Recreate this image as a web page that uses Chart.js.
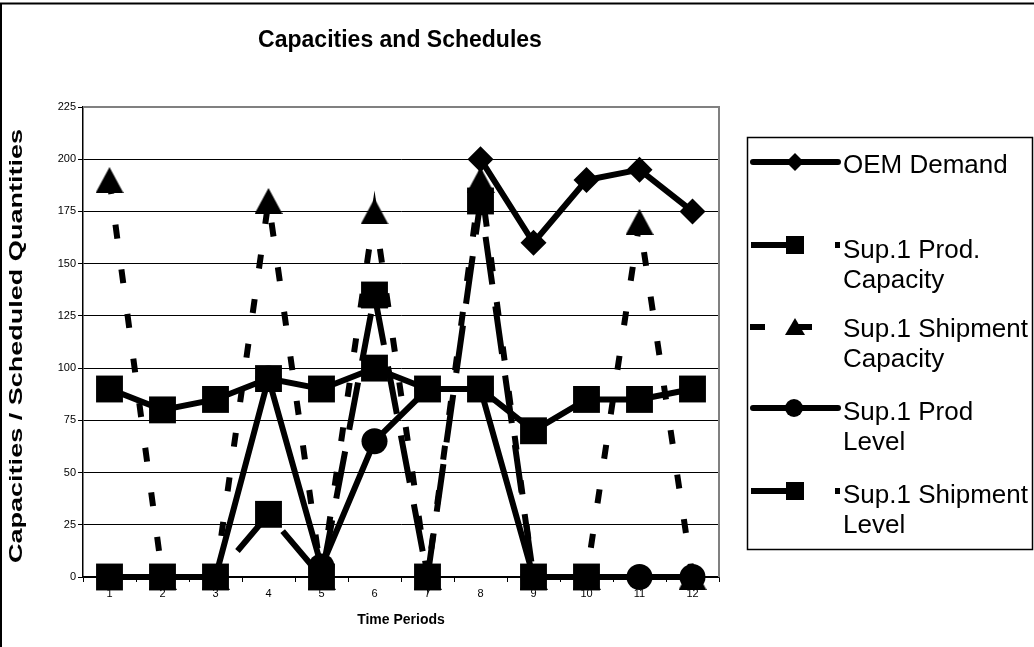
<!DOCTYPE html>
<html>
<head>
<meta charset="utf-8">
<script src="https://cdn.jsdelivr.net/npm/chart.js@4.4.1/dist/chart.umd.min.js"></script>
<style>
  html, body { margin: 0; padding: 0; background: #fff; }
  #wrap { width: 1034px; height: 647px; }
</style>
</head>
<body>
<div id="wrap"><canvas id="capChart" width="1034" height="647"></canvas></div>
<script>
const FONT = '"Liberation Sans", Arial, sans-serif';

// data
const periods = ['1', '2', '3', '4', '5', '6', '7', '8', '9', '10', '11', '12'];
const oemDemand = [null, null, null, null, null, null, null, 200, 160, 190, 195, 175];
const prodCapacity = [90, 80, 85, 95, 90, 100, 90, 90, 70, 85, 85, 90];
const shipCapacity = [190, 0, 0, 180, 0, 175, 0, 190, 0, 0, 170, 0];
const prodLevel = [0, 0, 0, 95, 5, 65, 90, 90, 0, 0, 0, 0];
const shipLevel = [0, 0, 0, 30, 0, 135, 0, 180, 0, 0, null, null];
const yTicks = [0, 25, 50, 75, 100, 125, 150, 175, 200, 225];

const seriesNames = ['OEM Demand', 'Sup.1 Prod. Capacity', 'Sup.1 Shipment Capacity', 'Sup.1 Prod Level', 'Sup.1 Shipment Level'];
// how the legend wraps its labels
const legendLines = [['OEM Demand'], ['Sup.1 Prod.', 'Capacity'], ['Sup.1 Shipment', 'Capacity'], ['Sup.1 Prod', 'Level'], ['Sup.1 Shipment', 'Level']];

// excel centres its triangle marker on the box, not the centroid
const triMarker = document.createElement('canvas');
triMarker.width = 28;
triMarker.height = 26;
(function () {
    const c = triMarker.getContext('2d');
    c.fillStyle = '#000';
    c.beginPath();
    c.moveTo(14, 0);
    c.lineTo(28, 26);
    c.lineTo(0, 26);
    c.closePath();
    c.fill();
})();

function series(label, data, style, radius, dash, order) {
    return {
        label: label,
        data: data,
        borderColor: '#000',
        backgroundColor: '#000',
        borderWidth: 6,
        borderDash: dash,
        borderCapStyle: 'butt',
        pointStyle: style,
        pointRadius: radius,
        pointHoverRadius: radius,
        pointBackgroundColor: '#000',
        pointBorderWidth: 0,
        tension: 0,
        clip: false,
        order: order
    };
}

// frame, titles and the boxed legend, drawn the way the old spreadsheet chart had them
const decorations = {
    id: 'decorations',
    beforeDatasetsDraw(chart) {
        const ctx = chart.ctx;
        const a = chart.chartArea;
        ctx.save();
        ctx.strokeStyle = '#808080';
        ctx.lineWidth = 2;
        ctx.beginPath();
        ctx.moveTo(a.left, a.top);
        ctx.lineTo(a.right, a.top);
        ctx.lineTo(a.right, a.bottom);
        ctx.stroke();
        ctx.restore();
    },
    afterDraw(chart) {
        const ctx = chart.ctx;
        const a = chart.chartArea;
        ctx.save();

        // outer frame (top and left only show)
        ctx.strokeStyle = '#000';
        ctx.lineWidth = 2;
        ctx.beginPath();
        ctx.moveTo(1, 647);
        ctx.lineTo(1, 3.5);
        ctx.lineTo(1034, 3.5);
        ctx.stroke();

        // title
        ctx.fillStyle = '#000';
        ctx.font = 'bold 23px ' + FONT;
        ctx.textAlign = 'center';
        ctx.textBaseline = 'alphabetic';
        ctx.fillText('Capacities and Schedules', 400, 47);

        // y axis title, stretched along its length like the original
        ctx.save();
        ctx.translate(17, (a.top + a.bottom) / 2 + 4);
        ctx.rotate(-Math.PI / 2);
        ctx.font = 'bold 18px ' + FONT;
        const yt = 'Capacities / Scheduled Quantities';
        const w = ctx.measureText(yt).width;
        ctx.scale(434 / w, 1);
        ctx.textBaseline = 'middle';
        ctx.fillText(yt, 0, 0);
        ctx.restore();

        // legend box
        ctx.strokeStyle = '#000';
        ctx.lineWidth = 1.5;
        ctx.strokeRect(747.5, 137.5, 285, 412);

        const symY = [162, 245, 327, 408, 491];
        const baseY = [173, 258, 337, 420, 503];
        ctx.fillStyle = '#000';
        ctx.strokeStyle = '#000';

        function lineSeg(x1, x2, y, cap) {
            ctx.lineWidth = 6;
            ctx.lineCap = cap;
            ctx.beginPath();
            ctx.moveTo(x1, y);
            ctx.lineTo(x2, y);
            ctx.stroke();
        }

        // OEM demand
        lineSeg(753, 838, symY[0], 'round');
        ctx.beginPath();
        ctx.moveTo(795, symY[0] - 9);
        ctx.lineTo(804, symY[0]);
        ctx.lineTo(795, symY[0] + 9);
        ctx.lineTo(786, symY[0]);
        ctx.closePath();
        ctx.fill();

        // prod capacity and shipment level
        [1, 4].forEach(i => {
            lineSeg(751, 788, symY[i], 'butt');
            ctx.fillRect(786, symY[i] - 9, 18, 18);
            ctx.fillRect(835, symY[i] - 3, 5, 6);
        });

        // shipment capacity
        ctx.fillRect(750, symY[2] - 3, 15, 6);
        ctx.beginPath();
        ctx.moveTo(795, symY[2] - 9);
        ctx.lineTo(805, symY[2] + 8);
        ctx.lineTo(785, symY[2] + 8);
        ctx.closePath();
        ctx.fill();
        ctx.fillRect(797, symY[2] - 3, 15, 6);

        // prod level
        lineSeg(753, 838, symY[3], 'round');
        ctx.beginPath();
        ctx.arc(794, symY[3], 9, 0, Math.PI * 2);
        ctx.fill();

        ctx.font = '26px ' + FONT;
        ctx.textAlign = 'left';
        ctx.textBaseline = 'alphabetic';
        legendLines.forEach((lines, i) => {
            lines.forEach((t, j) => ctx.fillText(t, 843, baseY[i] + j * 30));
        });

        ctx.restore();
    }
};

const capChart = new Chart(document.getElementById('capChart'), {
    type: 'line',
    data: {
        labels: periods,
        datasets: [
            series(seriesNames[0], oemDemand, 'rectRot', 13, [], 5),
            series(seriesNames[1], prodCapacity, 'rect', 19, [], 4),
            series(seriesNames[2], shipCapacity, triMarker, 14, [14, 31], 3),
            series(seriesNames[3], prodLevel, 'circle', 13, [], 2),
            series(seriesNames[4], shipLevel, 'rect', 19, [48, 22], 1)
        ]
    },
    options: {
        responsive: false,
        animation: false,
        layout: { padding: { left: 0, right: 315, top: 107, bottom: 18 } },
        plugins: {
            legend: { display: false },
            title: { display: false },
            tooltip: { enabled: false }
        },
        scales: {
            x: {
                offset: true,
                grid: { drawOnChartArea: false, drawTicks: true, tickLength: 5, color: '#000', offset: true },
                border: { color: '#000', width: 1.5 },
                ticks: { color: '#000', font: { family: FONT, size: 11 }, padding: 5, maxRotation: 0, autoSkip: false },
                title: { display: true, text: 'Time Periods', color: '#000', font: { family: FONT, size: 14, weight: 'bold' }, padding: 0 },
                afterFit(scale) { scale.height = 52; }
            },
            y: {
                min: 0,
                max: 225,
                grid: { color: '#000', lineWidth: 1, tickLength: 5 },
                border: { color: '#000', width: 1.5 },
                ticks: { color: '#000', font: { family: FONT, size: 11 }, padding: 2, stepSize: 25 },
                afterBuildTicks(scale) { scale.ticks = yTicks.map(v => ({ value: v })); },
                afterFit(scale) { scale.width = 83; }
            }
        }
    },
    plugins: [decorations]
});
</script>
</body>
</html>
